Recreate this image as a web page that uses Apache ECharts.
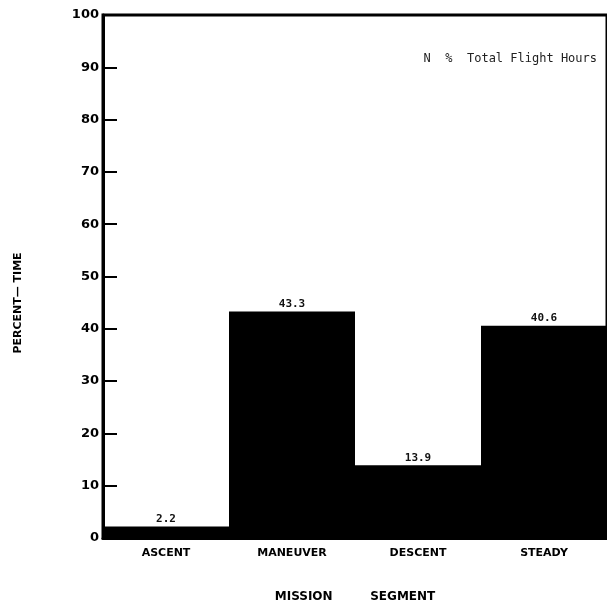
<!DOCTYPE html>
<html><head><meta charset="utf-8">
<script src="https://cdn.jsdelivr.net/npm/echarts@6/dist/echarts.min.js"></script>
<style>html,body{margin:0;padding:0;background:#fff}#c{width:607px;height:608px}</style>
</head><body><div id="c"></div>
<script>
const categories = ['ASCENT', 'MANEUVER', 'DESCENT', 'STEADY'];
const percentTime = [2.2, 43.3, 13.9, 40.6];
const yTicks = [0, 10, 20, 30, 40, 50, 60, 70, 80, 90, 100];

const chart = echarts.init(document.getElementById('c'));
chart.setOption({
  animation: false,
  backgroundColor: '#fff',
  grid: { left: 103, right: 0, top: 15, bottom: 70, show: true, borderColor: '#000', borderWidth: 3, backgroundColor: 'transparent' },
  xAxis: {
    type: 'category', data: categories,
    axisLine: { show: true, lineStyle: { color: '#000', width: 3 } },
    axisTick: { show: false },
    axisLabel: { color: '#000', fontFamily: 'DejaVu Sans', fontWeight: 'bold', fontSize: 11, margin: 10 },
    name: 'MISSION         SEGMENT', nameLocation: 'middle', nameGap: 53,
    nameTextStyle: { color: '#000', fontFamily: 'DejaVu Sans', fontWeight: 'bold', fontSize: 12 }
  },
  yAxis: {
    type: 'value', min: 0, max: 100, interval: 10,
    axisLine: { show: true, lineStyle: { color: '#000', width: 3 } },
    axisTick: { show: true, inside: true, length: 14, lineStyle: { color: '#000', width: 2 } },
    splitLine: { show: false },
    axisLabel: { color: '#000', fontFamily: 'DejaVu Sans', fontWeight: 'bold', fontSize: 13, margin: 4,
      formatter: v => yTicks.includes(v) ? String(v) : '' }
  },
  graphic: [{
    type: 'text', x: 18, y: 303, rotation: Math.PI / 2,
    style: { text: 'PERCENT— TIME', fill: '#000', font: 'bold 11px "DejaVu Sans"', align: 'center', verticalAlign: 'middle' }
  }, {
    type: 'text', right: 10, top: 53,
    style: { text: 'N  %  Total Flight Hours', fill: '#222', font: '12px "DejaVu Sans Mono"' }
  }],
  series: [{
    type: 'bar', data: percentTime, barCategoryGap: 0, barGap: 0,
    itemStyle: { color: '#000' },
    label: { show: true, position: 'top', distance: 2, color: '#111', fontFamily: 'DejaVu Sans Mono', fontWeight: 'bold', fontSize: 11,
      formatter: p => p.value.toFixed(1) }
  }]
});
</script></body></html>
